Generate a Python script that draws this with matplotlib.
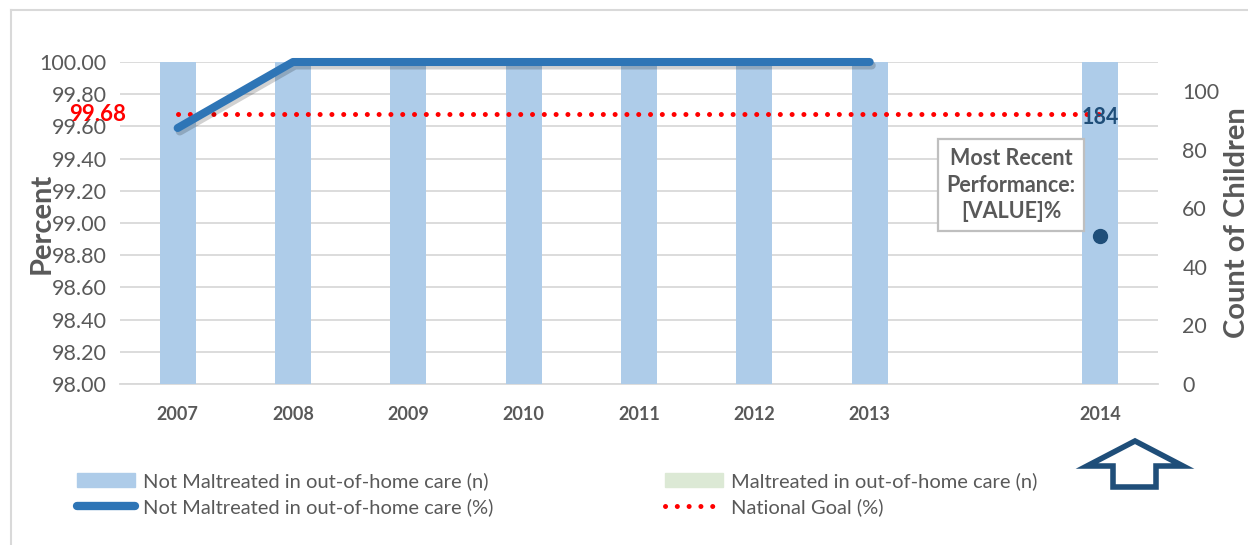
import numpy as np
import matplotlib
matplotlib.use("Agg")
import matplotlib.pyplot as plt
from matplotlib.patches import Patch, Polygon
from matplotlib.lines import Line2D
import matplotlib.patheffects as pe

plt.rcParams['font.family'] = ['Lato', 'DejaVu Sans']

# ---- data ----
categories = ["2007", "2008", "2009", "2010", "2011", "2012", "2013", "", "2014"]
not_maltreated_n = [184, 184, 184, 184, 184, 184, 184, np.nan, 184]
maltreated_n = [0, 0, 0, 0, 0, 0, 0, np.nan, 0]
not_maltreated_pct = [99.59, 100.0, 100.0, 100.0, 100.0, 100.0, 100.0, np.nan, np.nan]
recent_pct = [np.nan, np.nan, np.nan, np.nan, np.nan, np.nan, np.nan, np.nan, 98.92]
national_goal = [99.68] * 9
goal_label = "99.68"
count_label = "184"

GREY = "#595959"
BAR = "#AECCE9"
LINE = "#2E75B6"
NAVY = "#1F4E79"

W, H = 1248, 545
fig = plt.figure(figsize=(W / 100, H / 100), dpi=100)
rect = [120 / W, 1 - 384 / H, (1158 - 120) / W, (384 - 62) / H]

x = np.arange(len(categories))

# background grid axes
axg = fig.add_axes(rect)
axg.set_ylim(98, 100)
axg.set_xlim(-0.5, len(categories) - 0.5)
axg.set_yticks(np.arange(98, 100.01, 0.2))
axg.set_xticks([])
axg.yaxis.grid(True, color="#D9D9D9", lw=1.3)
axg.tick_params(left=False, labelleft=False)
for s in axg.spines.values():
    s.set_visible(False)
axg.spines['bottom'].set_visible(True)
axg.spines['bottom'].set_color("#D9D9D9")
axg.spines['bottom'].set_linewidth(1.3)
axg.set_zorder(0)

# count axes (bars)
ax2 = fig.add_axes(rect)
ax2.patch.set_visible(False)
ax2.set_zorder(1)
ax2.bar(x, not_maltreated_n, width=0.31, color=BAR)
ax2.bar(x, maltreated_n, width=0.31, color="#DCE9D5", bottom=not_maltreated_n)
ax2.set_ylim(0, 110)
ax2.set_xlim(-0.5, len(categories) - 0.5)
ax2.set_yticks(np.arange(0, 101, 20))
ax2.yaxis.tick_right()
ax2.yaxis.set_label_position("right")
ax2.tick_params(axis='y', right=False, labelsize=15.5, labelcolor=GREY, pad=14)
ax2.set_xticks([])
for s in ax2.spines.values():
    s.set_visible(False)
ax2.set_ylabel("Count of Children", fontsize=21, fontweight="bold", color=GREY, labelpad=3)

# percent axes (lines)
ax = fig.add_axes(rect)
ax.patch.set_visible(False)
ax.set_zorder(2)
ax.set_ylim(98, 100)
ax.set_xlim(-0.5, len(categories) - 0.5)
ax.set_yticks(np.arange(98, 100.01, 0.2))
ax.yaxis.set_major_formatter(matplotlib.ticker.FormatStrFormatter("%.2f"))
ax.tick_params(axis='y', left=False, labelsize=15.5, labelcolor=GREY, pad=6)
tick_idx = [i for i, c in enumerate(categories) if c]
ax.set_xticks(tick_idx)
ax.set_xticklabels([categories[i] for i in tick_idx], fontsize=13, fontweight="bold", color=GREY)
ax.tick_params(axis='x', bottom=False, pad=12)
for s in ax.spines.values():
    s.set_visible(False)
ax.set_ylabel("Percent", fontsize=21, fontweight="bold", color=GREY, labelpad=-11)

ax.plot(x, national_goal, color="red", lw=3.6, linestyle=(0, (0.01, 2.35)),
        dash_capstyle="round", clip_on=False)
ax.plot(x, not_maltreated_pct, color=LINE, lw=5.8, solid_capstyle="round",
        clip_on=False,
        path_effects=[pe.SimpleLineShadow(offset=(1.5, -2.5), shadow_color="black", alpha=0.18),
                      pe.Normal()])
ax.plot(x, recent_pct, 'o', color=NAVY, ms=10, clip_on=False)

ax.annotate(goal_label, xy=(0, national_goal[0]), xytext=(-37, -1), textcoords="offset points",
            ha="right", va="center", color="red", fontsize=16, fontweight="bold")
ax.annotate(count_label, xy=(x[-1], national_goal[-1]), xytext=(0, -3), textcoords="offset points",
            ha="center", va="center", color=NAVY, fontsize=15.5, fontweight="bold")

# text box
fig.text(1011 / W, 1 - 185 / H, "Most Recent\nPerformance:\n[VALUE]%", ha="center", va="center",
         fontsize=15.5, fontweight="bold", color=GREY, linespacing=1.35,
         bbox=dict(boxstyle="square,pad=0.38", fc="white", ec="#BFBFBF", lw=1.6))

# arrow
pts = [(1135, 441), (1183, 466), (1156, 466), (1156, 487), (1113, 487), (1113, 466), (1087, 466)]
arrow = Polygon([(px / W, 1 - py / H) for px, py in pts], closed=True, fc="white", ec=NAVY,
                lw=4, joinstyle="miter", transform=fig.transFigure)
fig.add_artist(arrow)

# chart border
fig.add_artist(Line2D([11 / W, 1], [1 - 10 / H, 1 - 10 / H], color="#D9D9D9", lw=1.5,
                      transform=fig.transFigure))
fig.add_artist(Line2D([11 / W, 11 / W], [0, 1 - 10 / H], color="#D9D9D9", lw=1.5,
                      transform=fig.transFigure))

# legend
handles = [Patch(color=BAR),
           Line2D([], [], color=LINE, lw=6, solid_capstyle="round"),
           Patch(color="#DCE9D5"),
           Line2D([], [], color="red", lw=3.6, linestyle=(0, (0.01, 2.35)), dash_capstyle="round")]
labels = ["Not Maltreated in out-of-home care (n)", "Not Maltreated in out-of-home care (%)",
          "Maltreated in out-of-home care (n)", "National Goal (%)"]
fig.legend(handles, labels, ncol=2, loc="upper left", bbox_to_anchor=(77 / W, 1 - 472 / H),
           frameon=False, fontsize=14.5, labelcolor=GREY, handlelength=2.9, handletextpad=0.38,
           columnspacing=8.5, labelspacing=0.4, borderpad=0, borderaxespad=0)

fig.savefig("out.png", dpi=100)
